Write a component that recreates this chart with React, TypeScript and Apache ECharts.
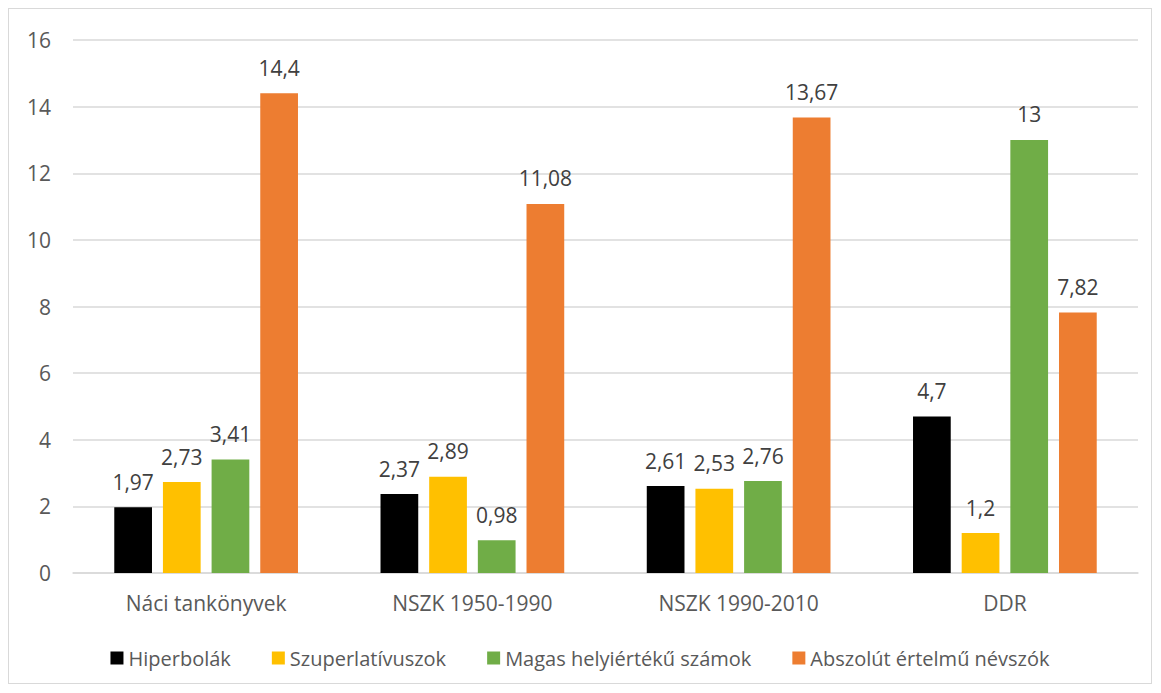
import React, { useEffect, useRef } from "react";
import * as echarts from "echarts";

const categories = ["Náci tankönyvek", "NSZK 1950-1990", "NSZK 1990-2010", "DDR"];
const seriesNames = ["Hiperbolák", "Szuperlatívuszok", "Magas helyiértékű számok", "Abszolút értelmű névszók"];
const hiperbolak = [1.97, 2.37, 2.61, 4.7];
const szuperlativuszok = [2.73, 2.89, 2.53, 1.2];
const magas = [3.41, 0.98, 2.76, 13];
const abszolut = [14.4, 11.08, 13.67, 7.82];
const colors = ["#000000", "#FFC000", "#70AD47", "#ED7D31"];

const FONT = "'Open Sans', 'Noto Sans', sans-serif";
const FS = 21;

export default function App() {
  const ref = useRef<HTMLDivElement>(null);
  useEffect(() => {
    if (!ref.current) return;
    const chart = echarts.init(ref.current, undefined, { renderer: "svg" });
    const values = [hiperbolak, szuperlativuszok, magas, abszolut];
    chart.setOption({
      animation: false,
      textStyle: { fontFamily: FONT },
      grid: { left: 64, right: 13, top: 31, bottom: 110 },
      legend: {
        bottom: 10,
        left: "center",
        itemWidth: 13,
        itemHeight: 13,
        itemGap: 41,
        icon: "rect",
        textStyle: { color: "#595959", fontSize: 20, fontFamily: FONT },
        data: seriesNames,
      },
      xAxis: {
        type: "category",
        data: categories,
        axisLine: { lineStyle: { color: "#d9d9d9", width: 1.5 } },
        axisTick: { show: false },
        axisLabel: { color: "#595959", fontSize: FS, margin: 19, fontFamily: FONT },
      },
      yAxis: {
        type: "value",
        min: 0,
        max: 16,
        interval: 2,
        axisLine: { show: false },
        axisTick: { show: false },
        splitLine: { lineStyle: { color: "#d9d9d9", width: 1.5 } },
        axisLabel: { color: "#595959", fontSize: FS, margin: 22, fontFamily: FONT },
      },
      series: seriesNames.map((name, i) => ({
        name,
        type: "bar",
        data: values[i],
        barGap: "29%",
        barCategoryGap: "31%",
        itemStyle: { color: colors[i] },
        label: {
          show: true,
          position: "top",
          distance: 15,
          color: "#404040",
          fontSize: FS,
          fontFamily: FONT,
          formatter: (p: any) => String(p.value).replace(".", ","),
        },
      })),
    });
    return () => chart.dispose();
  }, []);
  return (
    <div
      ref={ref}
      style={{
        width: 1144,
        height: 676,
        border: "1px solid #d9d9d9",
        boxSizing: "border-box",
        background: "#fff",
      }}
    />
  );
}
